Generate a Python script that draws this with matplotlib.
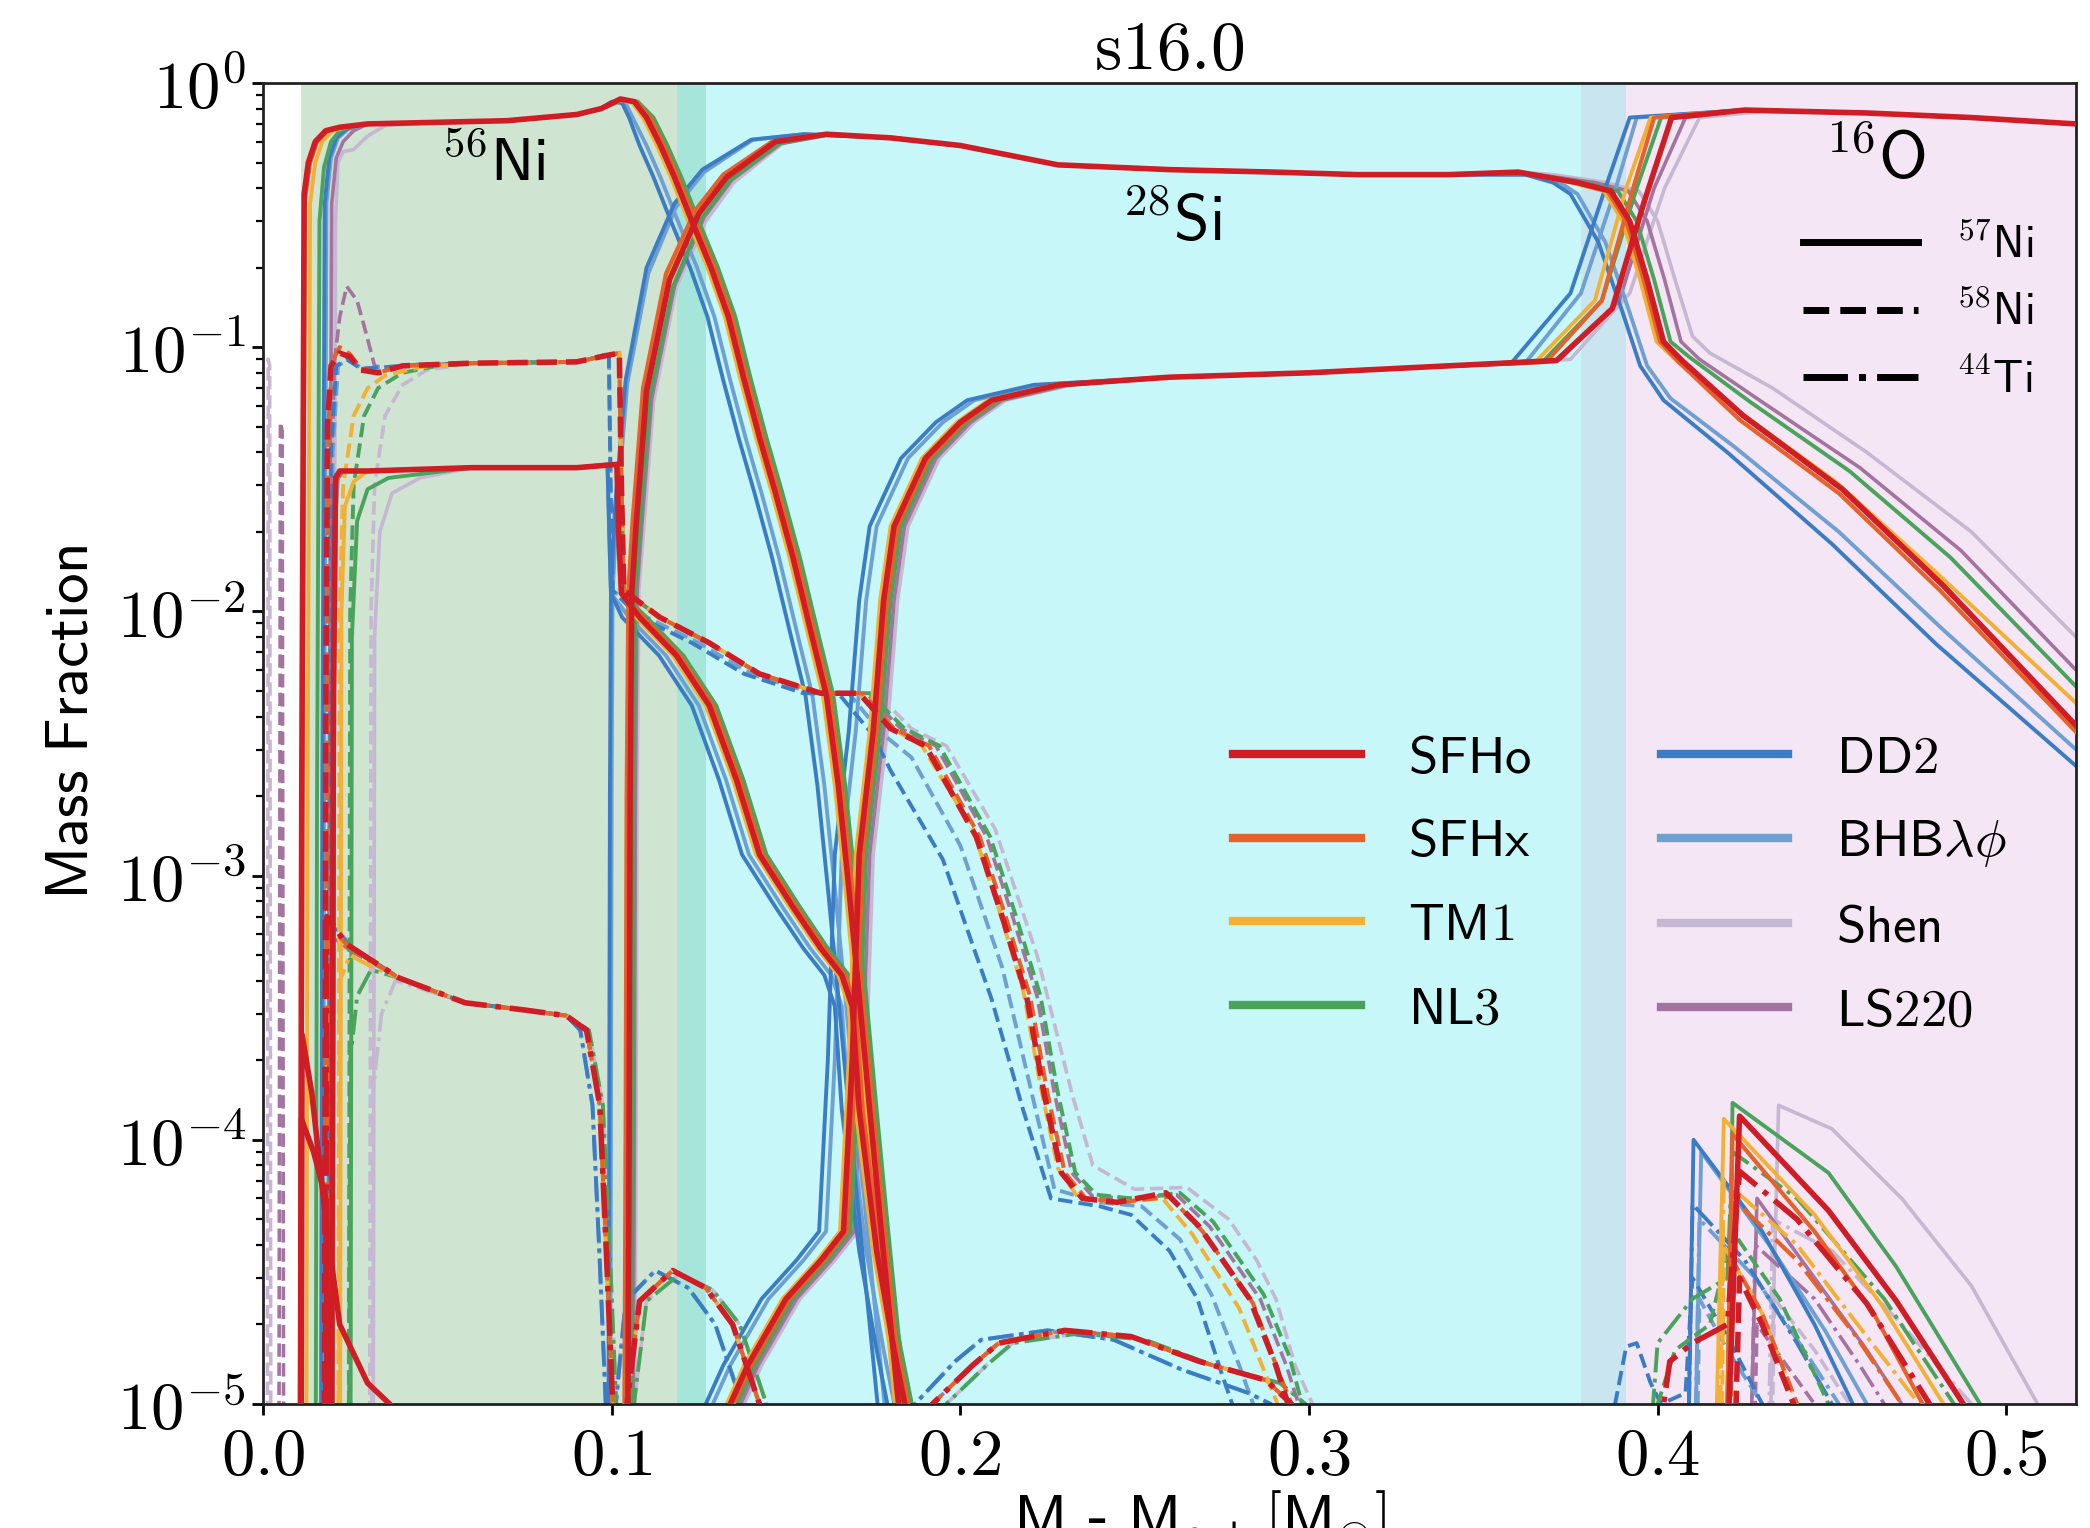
import math
import matplotlib
matplotlib.use("Agg")
import matplotlib.pyplot as plt
from matplotlib.ticker import FixedLocator, FuncFormatter, LogLocator, NullFormatter
from matplotlib.lines import Line2D

plt.rcParams['mathtext.fontset'] = 'cm'
plt.rcParams['font.family'] = ['DejaVu Sans']

# ---------------------------------------------------------------- EOS set
EOS = ['SFHo', 'SFHx', 'TM1', 'NL3', 'DD2', 'BHB', 'Shen', 'LS220']
EOS_LABELS = [r'$\mathsf{SFHo}$', r'$\mathsf{SFHx}$', r'$\mathsf{TM1}$', r'$\mathsf{NL3}$',
              r'$\mathsf{DD2}$', r'$\mathsf{BHB}\lambda\phi$', r'$\mathsf{Shen}$', r'$\mathsf{LS220}$']
COLORS = {'SFHo': '#d01c25', 'SFHx': '#e5622a', 'TM1': '#f2b134', 'NL3': '#4aa35a',
          'DD2': '#3b7dc4', 'BHB': '#6fa0d2', 'Shen': '#c6b7d2', 'LS220': '#a4739f'}

# ---------------------------------------------------------------- 56Ni (solid)
NI56_PLAT = [(0.03, 0.70), (0.05, 0.71), (0.07, 0.72), (0.09, 0.76), (0.097, 0.80)]
NI56_FALL_0 = [(0.1025, 0.87), (0.1065, 0.85), (0.110, 0.74), (0.114, 0.58), (0.118, 0.44), (0.123, 0.30),
               (0.1285, 0.20), (0.1335, 0.13), (0.138, 0.075), (0.1425, 0.045), (0.147, 0.028), (0.152, 0.016),
               (0.157, 8.5e-3), (0.1616, 4.8e-3), (0.165, 2.2e-3), (0.168, 9e-4), (0.171, 3.5e-4),
               (0.174, 1.3e-4), (0.177, 5e-5), (0.180, 2e-5), (0.183, 8e-6), (0.186, 3e-6)]
NI56_FALL_P1 = [(0.1025, 0.86), (0.1070, 0.85), (0.111, 0.74), (0.115, 0.58), (0.119, 0.44), (0.124, 0.30),
                (0.1295, 0.20), (0.1345, 0.13), (0.139, 0.075), (0.1435, 0.045), (0.148, 0.028), (0.153, 0.016),
                (0.158, 8.5e-3), (0.1626, 4.8e-3), (0.166, 2.2e-3), (0.169, 9e-4), (0.172, 3.5e-4),
                (0.175, 1.3e-4), (0.178, 5e-5), (0.181, 2e-5), (0.184, 8e-6), (0.187, 3e-6)]
NI56_FALL_TM1 = [(0.1025, 0.86), (0.1060, 0.84), (0.109, 0.74), (0.113, 0.58), (0.117, 0.44), (0.122, 0.30),
                 (0.1275, 0.20), (0.1325, 0.13), (0.137, 0.075), (0.1415, 0.045), (0.146, 0.028), (0.151, 0.016),
                 (0.156, 8.5e-3), (0.1606, 4.8e-3), (0.164, 2.2e-3), (0.167, 9e-4), (0.170, 3.5e-4),
                 (0.173, 1.3e-4), (0.176, 5e-5), (0.179, 2e-5), (0.182, 8e-6), (0.185, 3e-6)]
NI56_FALL_NL3 = [(0.1030, 0.86), (0.1075, 0.85), (0.112, 0.74), (0.116, 0.58), (0.120, 0.44), (0.125, 0.30),
                 (0.1305, 0.20), (0.1355, 0.13), (0.140, 0.075), (0.1445, 0.045), (0.149, 0.028), (0.154, 0.016),
                 (0.159, 8.5e-3), (0.1636, 4.8e-3), (0.167, 2.2e-3), (0.170, 9e-4), (0.173, 3.5e-4),
                 (0.176, 1.3e-4), (0.179, 5e-5), (0.182, 2e-5), (0.185, 8e-6), (0.188, 3e-6)]
NI56_FALL_DD2 = [(0.1000, 0.85), (0.1030, 0.84), (0.105, 0.74), (0.108, 0.58), (0.112, 0.44), (0.117, 0.30),
                 (0.1225, 0.20), (0.1275, 0.13), (0.132, 0.075), (0.1365, 0.045), (0.141, 0.028), (0.146, 0.016),
                 (0.151, 8.5e-3), (0.1556, 4.8e-3), (0.159, 2.2e-3), (0.162, 9e-4), (0.165, 3.5e-4),
                 (0.168, 1.3e-4), (0.171, 5e-5), (0.174, 2e-5), (0.177, 8e-6), (0.180, 3e-6)]
NI56_FALL_BHB = [(0.1005, 0.85), (0.1040, 0.84), (0.106, 0.74), (0.110, 0.58), (0.114, 0.44), (0.119, 0.30),
                 (0.1245, 0.20), (0.1295, 0.13), (0.134, 0.075), (0.1385, 0.045), (0.143, 0.028), (0.148, 0.016),
                 (0.153, 8.5e-3), (0.1576, 4.8e-3), (0.161, 2.2e-3), (0.164, 9e-4), (0.167, 3.5e-4),
                 (0.170, 1.3e-4), (0.173, 5e-5), (0.176, 2e-5), (0.179, 8e-6), (0.182, 3e-6)]
NI56 = {
    'SFHo': [(0.0106, 1e-6), (0.0111, 2e-3), (0.0118, 0.38), (0.013, 0.50), (0.015, 0.60), (0.018, 0.66),
             (0.022, 0.68)] + NI56_PLAT + NI56_FALL_0,
    'SFHx': [(0.0108, 1e-6), (0.0113, 2e-3), (0.012, 0.36), (0.0135, 0.50), (0.0155, 0.60), (0.0185, 0.66),
             (0.0225, 0.68)] + NI56_PLAT + NI56_FALL_P1,
    'TM1': [(0.0123, 1e-6), (0.0128, 2e-3), (0.0135, 0.35), (0.015, 0.50), (0.017, 0.60), (0.020, 0.66),
            (0.024, 0.68)] + NI56_PLAT + NI56_FALL_TM1,
    'NL3': [(0.0150, 1e-6), (0.0155, 2e-3), (0.0162, 0.30), (0.0175, 0.48), (0.0195, 0.60), (0.022, 0.66),
            (0.026, 0.69)] + NI56_PLAT + NI56_FALL_NL3,
    'DD2': [(0.0165, 1e-6), (0.0170, 2e-3), (0.0177, 0.35), (0.019, 0.52), (0.021, 0.62), (0.024, 0.67),
            (0.027, 0.69)] + NI56_PLAT + NI56_FALL_DD2,
    'BHB': [(0.0170, 1e-6), (0.0175, 2e-3), (0.0182, 0.35), (0.0195, 0.52), (0.0215, 0.62), (0.0245, 0.67),
            (0.028, 0.69)] + NI56_PLAT + NI56_FALL_BHB,
    'Shen': [(0.0198, 1e-6), (0.0203, 2e-3), (0.0208, 0.30), (0.0215, 0.50), (0.023, 0.55), (0.026, 0.56),
             (0.030, 0.63), (0.035, 0.69)] + NI56_PLAT[1:] + NI56_FALL_P1,
    'LS220': [(0.0185, 1e-6), (0.0190, 2e-3), (0.0197, 0.35), (0.021, 0.52), (0.023, 0.60), (0.026, 0.66),
              (0.029, 0.69)] + NI56_PLAT + NI56_FALL_0,
}

# ---------------------------------------------------------------- 28Si (solid)
SI28_INNER = [(0.0108, 1e-6), (0.0112, 2.5e-4), (0.014, 1.5e-4), (0.018, 5e-5), (0.022, 2e-5),
              (0.03, 1.2e-5), (0.04, 9e-6), (0.05, 6e-6)]
SI28_MID = [(0.2, 0.58), (0.228, 0.49), (0.26, 0.47), (0.29, 0.46), (0.314, 0.45), (0.34, 0.45), (0.36, 0.46)]
SI28 = {
    'SFHo': SI28_INNER + [(0.1045, 3e-6), (0.1050, 1e-4), (0.1053, 2e-3), (0.1058, 0.012), (0.107, 0.021),
                          (0.110, 0.068), (0.1166, 0.18), (0.125, 0.32), (0.133, 0.44), (0.147, 0.60),
                          (0.1616, 0.64), (0.18, 0.62)] + SI28_MID +
            [(0.377, 0.42), (0.3866, 0.39), (0.392, 0.30), (0.397, 0.18), (0.4017, 0.105), (0.407, 0.089),
             (0.4246, 0.055), (0.453, 0.029), (0.482, 0.0125), (0.52, 3.7e-3)],
    'SFHx': [(0.1035, 3e-6), (0.1040, 1e-4), (0.1043, 2e-3), (0.1048, 0.012), (0.106, 0.022), (0.109, 0.07),
             (0.1156, 0.19), (0.124, 0.33), (0.132, 0.45), (0.146, 0.60), (0.1606, 0.64), (0.18, 0.62)] + SI28_MID +
            [(0.376, 0.42), (0.3856, 0.39), (0.391, 0.30), (0.396, 0.18), (0.4007, 0.105), (0.406, 0.088),
             (0.4236, 0.053), (0.452, 0.028), (0.481, 0.012), (0.52, 3.5e-3)],
    'TM1': [(0.1040, 3e-6), (0.1045, 1e-4), (0.1048, 2e-3), (0.1053, 0.012), (0.1065, 0.022), (0.1095, 0.07),
            (0.116, 0.19), (0.1245, 0.33), (0.1325, 0.45), (0.1465, 0.60), (0.161, 0.64), (0.18, 0.62)] + SI28_MID +
           [(0.375, 0.42), (0.3846, 0.39), (0.390, 0.30), (0.395, 0.18), (0.3997, 0.105), (0.405, 0.09),
            (0.4226, 0.058), (0.451, 0.031), (0.48, 0.014), (0.52, 4.5e-3)],
    'NL3': [(0.1055, 3e-6), (0.1060, 1e-4), (0.1063, 2e-3), (0.1068, 0.012), (0.108, 0.020), (0.111, 0.065),
            (0.1176, 0.17), (0.126, 0.31), (0.134, 0.43), (0.148, 0.59), (0.1626, 0.64), (0.18, 0.62)] + SI28_MID +
           [(0.379, 0.42), (0.3886, 0.39), (0.394, 0.30), (0.399, 0.18), (0.4037, 0.105), (0.409, 0.092),
            (0.4266, 0.062), (0.455, 0.034), (0.484, 0.016), (0.52, 5.2e-3)],
    'DD2': [(0.0990, 3e-6), (0.0993, 1e-4), (0.0995, 2e-3), (0.0998, 0.012), (0.101, 0.025), (0.104, 0.075),
            (0.110, 0.20), (0.118, 0.35), (0.126, 0.47), (0.14, 0.61), (0.155, 0.64), (0.18, 0.62)] + SI28_MID[:-1] +
           [(0.362, 0.45), (0.370, 0.42), (0.375, 0.38), (0.383, 0.25), (0.390, 0.135), (0.395, 0.085),
            (0.4017, 0.063), (0.42, 0.04), (0.45, 0.018), (0.48, 7.5e-3), (0.52, 2.6e-3)],
    'BHB': [(0.0995, 3e-6), (0.0998, 1e-4), (0.1000, 2e-3), (0.1003, 0.012), (0.1015, 0.024), (0.1045, 0.073),
            (0.1105, 0.19), (0.1185, 0.34), (0.1265, 0.46), (0.1405, 0.61), (0.1555, 0.64), (0.18, 0.62)] + SI28_MID[:-1] +
           [(0.364, 0.45), (0.372, 0.42), (0.377, 0.38), (0.385, 0.25), (0.392, 0.135), (0.397, 0.085),
            (0.4037, 0.064), (0.422, 0.042), (0.452, 0.02), (0.482, 8.5e-3), (0.52, 3.0e-3)],
    'Shen': [(0.1065, 3e-6), (0.1070, 1e-4), (0.1073, 2e-3), (0.1078, 0.012), (0.109, 0.019), (0.112, 0.062),
             (0.1186, 0.17), (0.127, 0.30), (0.135, 0.42), (0.149, 0.59), (0.1636, 0.64), (0.18, 0.62)] + SI28_MID +
            [(0.37, 0.45), (0.385, 0.42), (0.3946, 0.39), (0.400, 0.30), (0.405, 0.18), (0.41, 0.11),
             (0.415, 0.095), (0.433, 0.07), (0.46, 0.04), (0.49, 0.02), (0.52, 8e-3)],
    'LS220': [(0.1060, 3e-6), (0.1065, 1e-4), (0.1068, 2e-3), (0.1073, 0.012), (0.1085, 0.020), (0.1115, 0.064),
              (0.118, 0.17), (0.1265, 0.31), (0.1345, 0.43), (0.1485, 0.59), (0.163, 0.64), (0.18, 0.62)] + SI28_MID +
             [(0.382, 0.42), (0.3916, 0.39), (0.397, 0.30), (0.402, 0.18), (0.4067, 0.105), (0.412, 0.09),
              (0.43, 0.062), (0.458, 0.035), (0.487, 0.017), (0.52, 6e-3)],
}

# ---------------------------------------------------------------- 16O (solid)
O16_MID = [(0.26, 0.077), (0.3, 0.080), (0.34, 0.085)]
O16_TOP = [(0.425, 0.79), (0.46, 0.77), (0.49, 0.74), (0.52, 0.70)]
O16 = {
    'SFHo': [(0.131, 1e-6), (0.134, 1e-5), (0.139, 1.4e-5), (0.15, 2.5e-5), (0.16, 3.5e-5), (0.1665, 4.5e-5),
             (0.169, 2e-4), (0.171, 1.2e-3), (0.175, 3.5e-3), (0.178, 0.011), (0.181, 0.021), (0.19, 0.038),
             (0.2, 0.052), (0.209, 0.063), (0.228, 0.072)] + O16_MID +
            [(0.371, 0.089), (0.387, 0.14), (0.396, 0.35), (0.404, 0.74)] + O16_TOP,
    'SFHx': [(0.132, 1e-6), (0.135, 1e-5), (0.140, 1.4e-5), (0.151, 2.5e-5), (0.161, 3.5e-5), (0.1675, 4.5e-5),
             (0.170, 2e-4), (0.172, 1.2e-3), (0.176, 3.5e-3), (0.179, 0.011), (0.182, 0.021), (0.191, 0.038),
             (0.201, 0.052), (0.210, 0.063), (0.229, 0.072)] + O16_MID +
            [(0.368, 0.088), (0.384, 0.15), (0.393, 0.40), (0.399, 0.74)] + O16_TOP,
    'TM1': [(0.130, 1e-6), (0.133, 1e-5), (0.138, 1.4e-5), (0.149, 2.5e-5), (0.159, 3.5e-5), (0.1655, 4.5e-5),
            (0.168, 2e-4), (0.170, 1.2e-3), (0.174, 3.5e-3), (0.177, 0.011), (0.180, 0.021), (0.189, 0.038),
            (0.199, 0.052), (0.208, 0.063), (0.227, 0.072)] + O16_MID +
           [(0.365, 0.088), (0.382, 0.15), (0.391, 0.40), (0.398, 0.74)] + O16_TOP,
    'NL3': [(0.133, 1e-6), (0.136, 1e-5), (0.141, 1.4e-5), (0.152, 2.5e-5), (0.162, 3.5e-5), (0.1685, 4.5e-5),
            (0.171, 2e-4), (0.173, 1.2e-3), (0.177, 3.5e-3), (0.180, 0.011), (0.183, 0.021), (0.192, 0.038),
            (0.202, 0.052), (0.211, 0.063), (0.230, 0.072)] + O16_MID +
           [(0.367, 0.088), (0.384, 0.15), (0.394, 0.40), (0.401, 0.74)] + O16_TOP,
    'DD2': [(0.124, 1e-6), (0.127, 1e-5), (0.132, 1.4e-5), (0.143, 2.5e-5), (0.153, 3.5e-5), (0.1595, 4.5e-5),
            (0.162, 2e-4), (0.164, 1.2e-3), (0.168, 3.5e-3), (0.171, 0.011), (0.174, 0.021), (0.183, 0.038),
            (0.193, 0.052), (0.202, 0.063), (0.221, 0.072)] + O16_MID +
           [(0.358, 0.087), (0.375, 0.16), (0.385, 0.40), (0.392, 0.74)] + O16_TOP,
    'BHB': [(0.126, 1e-6), (0.129, 1e-5), (0.134, 1.4e-5), (0.145, 2.5e-5), (0.155, 3.5e-5), (0.1615, 4.5e-5),
            (0.164, 2e-4), (0.166, 1.2e-3), (0.170, 3.5e-3), (0.173, 0.011), (0.176, 0.021), (0.185, 0.038),
            (0.195, 0.052), (0.204, 0.063), (0.223, 0.072)] + O16_MID +
           [(0.362, 0.087), (0.378, 0.16), (0.388, 0.40), (0.394, 0.74)] + O16_TOP,
    'Shen': [(0.135, 1e-6), (0.138, 1e-5), (0.143, 1.4e-5), (0.154, 2.5e-5), (0.164, 3.5e-5), (0.1705, 4.5e-5),
             (0.173, 2e-4), (0.175, 1.2e-3), (0.179, 3.5e-3), (0.182, 0.011), (0.185, 0.021), (0.194, 0.038),
             (0.204, 0.052), (0.213, 0.063), (0.232, 0.072)] + O16_MID +
            [(0.375, 0.09), (0.392, 0.16), (0.402, 0.40), (0.412, 0.74), (0.43, 0.78)] + O16_TOP[1:],
    'LS220': [(0.134, 1e-6), (0.137, 1e-5), (0.142, 1.4e-5), (0.153, 2.5e-5), (0.163, 3.5e-5), (0.1695, 4.5e-5),
              (0.172, 2e-4), (0.174, 1.2e-3), (0.178, 3.5e-3), (0.181, 0.011), (0.184, 0.021), (0.193, 0.038),
              (0.203, 0.052), (0.212, 0.063), (0.231, 0.072)] + O16_MID +
             [(0.372, 0.09), (0.389, 0.15), (0.399, 0.40), (0.408, 0.74)] + O16_TOP,
}

# ---------------------------------------------------------------- 57Ni (solid)
NI57_PLAT = [(0.03, 0.034), (0.06, 0.035), (0.09, 0.035)]
NI57_DROP = [(0.1015, 0.036), (0.102, 0.02), (0.1028, 0.0117)]
NI57_DROP_BLUE = [(0.0988, 0.036), (0.0993, 0.02), (0.0998, 0.0117)]
NI57_FALL_0 = [(0.108, 9.5e-3), (0.1186, 6.8e-3), (0.128, 4.4e-3), (0.1358, 2.3e-3), (0.1424, 1.2e-3),
               (0.152, 7.6e-4), (0.16, 5.3e-4), (0.166, 4.2e-4), (0.169, 3.2e-4), (0.171, 1.3e-4),
               (0.176, 3.8e-5), (0.181, 1.6e-5), (0.185, 8.7e-6), (0.188, 3e-6)]
NI57_FALL_P1 = [(0.109, 9.5e-3), (0.1196, 6.8e-3), (0.129, 4.4e-3), (0.1368, 2.3e-3), (0.1434, 1.2e-3),
                (0.153, 7.6e-4), (0.161, 5.3e-4), (0.167, 4.2e-4), (0.170, 3.2e-4), (0.172, 1.3e-4),
                (0.177, 3.8e-5), (0.182, 1.6e-5), (0.186, 8.7e-6), (0.189, 3e-6)]
NI57_FALL_M1 = [(0.107, 9.5e-3), (0.1176, 6.8e-3), (0.127, 4.4e-3), (0.1348, 2.3e-3), (0.1414, 1.2e-3),
                (0.151, 7.6e-4), (0.159, 5.3e-4), (0.165, 4.2e-4), (0.168, 3.2e-4), (0.170, 1.3e-4),
                (0.175, 3.8e-5), (0.180, 1.6e-5), (0.184, 8.7e-6), (0.187, 3e-6)]
NI57_FALL_P2 = [(0.110, 9.5e-3), (0.1206, 6.8e-3), (0.130, 4.4e-3), (0.1378, 2.3e-3), (0.1444, 1.2e-3),
                (0.154, 7.6e-4), (0.162, 5.3e-4), (0.168, 4.2e-4), (0.171, 3.2e-4), (0.173, 1.3e-4),
                (0.178, 3.8e-5), (0.183, 1.6e-5), (0.187, 8.7e-6), (0.190, 3e-6)]
NI57_FALL_DD2 = [(0.103, 9.5e-3), (0.1136, 6.8e-3), (0.123, 4.4e-3), (0.1308, 2.3e-3), (0.1374, 1.2e-3),
                 (0.147, 7.6e-4), (0.155, 5.3e-4), (0.161, 4.2e-4), (0.164, 3.2e-4), (0.166, 1.3e-4),
                 (0.171, 3.8e-5), (0.176, 1.6e-5), (0.180, 8.7e-6), (0.183, 3e-6)]
NI57_FALL_BHB = [(0.105, 9.5e-3), (0.1156, 6.8e-3), (0.125, 4.4e-3), (0.1328, 2.3e-3), (0.1394, 1.2e-3),
                 (0.149, 7.6e-4), (0.157, 5.3e-4), (0.163, 4.2e-4), (0.166, 3.2e-4), (0.168, 1.3e-4),
                 (0.173, 3.8e-5), (0.178, 1.6e-5), (0.182, 8.7e-6), (0.185, 3e-6)]
NI57 = {
    'SFHo': [(0.0106, 1e-6), (0.011, 1.2e-4), (0.0145, 9e-5), (0.018, 6e-5), (0.0188, 1e-6), (0.0195, 1e-6),
             (0.0202, 5e-3), (0.0208, 0.032), (0.022, 0.034)] + NI57_PLAT + NI57_DROP + NI57_FALL_0 +
            [(0.419, 1e-6), (0.4205, 1e-5), (0.4235, 1.23e-4), (0.449, 5.4e-5), (0.4685, 2.45e-5),
             (0.4877, 1e-5), (0.495, 5e-6)],
    'SFHx': [(0.0197, 1e-6), (0.0204, 5e-3), (0.021, 0.031), (0.0225, 0.034)] + NI57_PLAT + NI57_DROP +
            NI57_FALL_P1 +
            [(0.4195, 1e-6), (0.420, 1e-5), (0.4215, 1.05e-4), (0.445, 4.5e-5), (0.462, 2.2e-5),
             (0.476, 1e-5), (0.482, 5e-6)],
    'TM1': [(0.022, 1e-6), (0.0225, 0.01), (0.0235, 0.025), (0.026, 0.031)] + NI57_PLAT + NI57_DROP +
           NI57_FALL_M1 +
           [(0.4165, 1e-6), (0.417, 1e-5), (0.419, 1.2e-4), (0.445, 5.2e-5), (0.464, 2.4e-5),
            (0.482, 1e-5), (0.488, 5e-6)],
    'NL3': [(0.025, 1e-6), (0.0255, 8e-3), (0.027, 0.022), (0.030, 0.029), (0.036, 0.032)] + NI57_PLAT[1:] +
           NI57_DROP + NI57_FALL_P2 +
           [(0.4195, 1e-6), (0.420, 1e-5), (0.4215, 1.38e-4), (0.449, 7.5e-5), (0.4685, 3.3e-5),
            (0.4925, 1e-5), (0.498, 5e-6)],
    'DD2': [(0.0195, 1e-6), (0.0200, 0.02), (0.021, 0.032), (0.023, 0.034)] + NI57_PLAT + NI57_DROP_BLUE +
           NI57_FALL_DD2 +
           [(0.4085, 1e-6), (0.409, 1e-5), (0.4103, 1.0e-4), (0.43, 4.5e-5), (0.445, 2e-5),
            (0.456, 1e-5), (0.46, 5e-6)],
    'BHB': [(0.0200, 1e-6), (0.0205, 0.02), (0.0215, 0.032), (0.0235, 0.034)] + NI57_PLAT + NI57_DROP_BLUE +
           NI57_FALL_BHB +
           [(0.4105, 1e-6), (0.411, 1e-5), (0.4125, 9e-5), (0.432, 4e-5), (0.448, 1.9e-5),
            (0.46, 1e-5), (0.465, 5e-6)],
    'Shen': [(0.0315, 1e-6), (0.032, 8e-3), (0.0335, 0.02), (0.037, 0.028), (0.045, 0.032)] + NI57_PLAT[1:] +
            NI57_DROP + NI57_FALL_P2 +
            [(0.432, 1e-6), (0.4325, 1e-5), (0.4347, 1.35e-4), (0.45, 1.1e-4), (0.47, 6e-5), (0.49, 2.8e-5),
             (0.509, 1e-5), (0.514, 5e-6)],
    'LS220': [(0.0190, 1e-6), (0.0197, 0.02), (0.0205, 0.032), (0.023, 0.034)] + NI57_PLAT + NI57_DROP +
             NI57_FALL_P1 +
             [(0.4265, 1e-6), (0.427, 1e-5), (0.4285, 6e-5), (0.445, 3e-5), (0.46, 1.6e-5),
              (0.47, 1e-5), (0.474, 5e-6)],
}

# ---------------------------------------------------------------- 58Ni (dashed)
NI58_PLAT = [(0.06, 0.087), (0.09, 0.088)]
NI58_DROP = [(0.0985, 0.093), (0.1022, 0.095), (0.1028, 0.03), (0.1035, 0.012)]
NI58_DROP_BLUE = [(0.0965, 0.092), (0.0992, 0.095), (0.0997, 0.03), (0.1003, 0.012)]
NI58_EARLY = [(0.1138, 9.5e-3), (0.128, 7.6e-3), (0.1424, 5.8e-3), (0.16, 4.9e-3)]
NI58 = {
    'SFHo': [(0.0175, 1e-6), (0.018, 4e-3), (0.0185, 0.05), (0.0195, 0.085), (0.022, 0.095), (0.025, 0.092),
             (0.028, 0.082), (0.033, 0.080), (0.04, 0.085)] + NI58_PLAT + NI58_DROP + NI58_EARLY +
            [(0.171, 4.9e-3), (0.18, 3.6e-3), (0.19, 3.1e-3), (0.2046, 1.4e-3), (0.212, 7e-4), (0.219, 3.5e-4),
             (0.224, 1.5e-4), (0.229, 7.5e-5), (0.235, 6.0e-5), (0.245, 5.8e-5), (0.259, 6.3e-5),
             (0.2685, 4.7e-5), (0.283, 2.5e-5), (0.2905, 1.4e-5), (0.294, 1e-5), (0.297, 5e-6),
             (0.422, 1e-6), (0.4225, 1e-5), (0.4235, 3e-5), (0.43, 2e-5), (0.439, 1e-5), (0.445, 4e-6)],
    'SFHx': [(0.0178, 1e-6), (0.0183, 4e-3), (0.0188, 0.05), (0.0198, 0.088), (0.022, 0.10), (0.025, 0.094),
             (0.028, 0.083), (0.033, 0.080), (0.04, 0.085)] + NI58_PLAT + NI58_DROP + NI58_EARLY +
            [(0.172, 4.9e-3), (0.181, 3.6e-3), (0.191, 3.1e-3), (0.2056, 1.4e-3), (0.213, 7e-4), (0.220, 3.5e-4),
             (0.225, 1.5e-4), (0.230, 7.5e-5), (0.236, 6.0e-5), (0.246, 5.8e-5), (0.260, 6.1e-5),
             (0.2695, 4.5e-5), (0.284, 2.4e-5), (0.2915, 1.3e-5), (0.295, 1e-5), (0.298, 5e-6),
             (0.4205, 1e-6), (0.421, 1e-5), (0.4215, 3.5e-5), (0.43, 2.2e-5), (0.44, 1e-5), (0.445, 4e-6)],
    'TM1': [(0.0215, 1e-6), (0.022, 0.01), (0.023, 0.03), (0.026, 0.055), (0.03, 0.07), (0.035, 0.078),
            (0.045, 0.084)] + NI58_PLAT + NI58_DROP + NI58_EARLY +
           [(0.171, 4.9e-3), (0.179, 3.7e-3), (0.189, 3.1e-3), (0.2036, 1.5e-3), (0.211, 7.5e-4), (0.218, 3.7e-4),
            (0.223, 1.6e-4), (0.228, 7.8e-5), (0.234, 6.0e-5), (0.244, 5.8e-5), (0.258, 6.0e-5),
            (0.2665, 4.4e-5), (0.280, 2.3e-5), (0.2875, 1.3e-5), (0.291, 1e-5), (0.294, 5e-6),
            (0.418, 1e-6), (0.4185, 1e-5), (0.419, 4e-5), (0.43, 2.2e-5), (0.44, 1e-5), (0.445, 4e-6)],
    'NL3': [(0.0245, 1e-6), (0.025, 0.01), (0.026, 0.03), (0.029, 0.055), (0.033, 0.07), (0.04, 0.08),
            (0.05, 0.085)] + NI58_PLAT + NI58_DROP + NI58_EARLY +
           [(0.174, 4.9e-3), (0.184, 3.6e-3), (0.194, 3.1e-3), (0.2086, 1.4e-3), (0.216, 7e-4), (0.223, 3.5e-4),
            (0.228, 1.5e-4), (0.233, 7.5e-5), (0.239, 6.2e-5), (0.249, 6.0e-5), (0.263, 6.3e-5),
            (0.2725, 4.9e-5), (0.287, 2.6e-5), (0.2945, 1.5e-5), (0.298, 1e-5), (0.301, 5e-6),
            (0.3995, 1e-6), (0.400, 1e-5), (0.405, 1.6e-5), (0.415, 2e-5), (0.4215, 4.5e-5), (0.435, 2.5e-5),
            (0.449, 1e-5), (0.455, 4e-6)],
    'DD2': [(0.019, 1e-6), (0.0195, 0.04), (0.021, 0.085), (0.024, 0.09), (0.028, 0.083), (0.035, 0.084),
            (0.045, 0.086)] + NI58_PLAT + NI58_DROP_BLUE +
           [(0.108, 9.5e-3), (0.123, 7.6e-3), (0.138, 5.8e-3), (0.155, 4.9e-3),
            (0.165, 4.9e-3), (0.175, 3.4e-3), (0.18, 2.5e-3), (0.195, 1.15e-3), (0.209, 3.4e-4), (0.218, 1.3e-4),
            (0.226, 6e-5), (0.24, 5.6e-5), (0.249, 5.2e-5), (0.26, 3.8e-5), (0.268, 2.5e-5), (0.275, 1.3e-5),
            (0.278, 1e-5), (0.28, 5e-6),
            (0.387, 1e-6), (0.3878, 1e-5), (0.391, 1.65e-5), (0.394, 1.7e-5), (0.398, 1.2e-5), (0.401, 1e-5),
            (0.408, 1.1e-5), (0.41, 3e-5), (0.42, 1.8e-5), (0.43, 1e-5), (0.435, 4e-6)],
    'BHB': [(0.0195, 1e-6), (0.020, 0.04), (0.0215, 0.085), (0.0245, 0.09), (0.0285, 0.083), (0.035, 0.084),
            (0.045, 0.086)] + NI58_PLAT + NI58_DROP_BLUE +
           [(0.110, 9.5e-3), (0.125, 7.6e-3), (0.140, 5.8e-3), (0.158, 4.9e-3),
            (0.168, 4.9e-3), (0.177, 3.5e-3), (0.186, 2.8e-3), (0.2, 1.3e-3), (0.212, 4.5e-4), (0.22, 1.6e-4),
            (0.227, 6.5e-5), (0.24, 5.8e-5), (0.252, 5.6e-5), (0.263, 4.2e-5), (0.272, 2.6e-5), (0.28, 1.4e-5),
            (0.284, 1e-5), (0.287, 5e-6),
            (0.411, 1e-6), (0.4115, 1e-5), (0.412, 2.5e-5), (0.42, 1.6e-5), (0.43, 1e-5), (0.435, 4e-6)],
    'Shen': [(0.0012, 1e-6), (0.0015, 0.09), (0.0019, 0.085), (0.0023, 1e-6), (0.0305, 1e-6), (0.031, 0.01),
             (0.032, 0.03), (0.035, 0.055), (0.04, 0.072), (0.047, 0.082)] + NI58_PLAT + NI58_DROP + NI58_EARLY +
            [(0.176, 4.9e-3), (0.186, 3.6e-3), (0.196, 3.1e-3), (0.21, 1.5e-3), (0.222, 5e-4), (0.232, 1.5e-4),
             (0.238, 8e-5), (0.25, 6.5e-5), (0.265, 6.6e-5), (0.277, 5e-5), (0.285, 3.5e-5), (0.2905, 2.5e-5),
             (0.296, 1.4e-5), (0.301, 1e-5), (0.304, 5e-6),
             (0.4325, 1e-6), (0.433, 1e-5), (0.4335, 2.5e-5), (0.445, 1.6e-5), (0.455, 1e-5), (0.46, 4e-6)],
    'LS220': [(0.0045, 1e-6), (0.005, 0.052), (0.0055, 0.048), (0.006, 1e-6), (0.0185, 1e-6), (0.0195, 0.03),
              (0.0205, 0.088), (0.022, 0.13), (0.024, 0.17), (0.027, 0.15), (0.0298, 0.11), (0.032, 0.085),
              (0.036, 0.083), (0.045, 0.086)] + NI58_PLAT + NI58_DROP + NI58_EARLY +
             [(0.173, 4.9e-3), (0.183, 3.6e-3), (0.193, 3.1e-3), (0.2076, 1.4e-3), (0.215, 7e-4), (0.222, 3.5e-4),
              (0.227, 1.5e-4), (0.232, 7.5e-5), (0.238, 6.1e-5), (0.248, 6.0e-5), (0.262, 6.2e-5),
              (0.2715, 4.7e-5), (0.286, 2.5e-5), (0.2935, 1.4e-5), (0.297, 1e-5), (0.300, 5e-6),
              (0.4275, 1e-6), (0.428, 1e-5), (0.4285, 2e-5), (0.437, 1.4e-5), (0.445, 1e-5), (0.45, 4e-6)],
}

# ---------------------------------------------------------------- 44Ti (dash-dot)
TI44_MID = [(0.039, 4.1e-4), (0.058, 3.3e-4), (0.075, 3.1e-4), (0.087, 2.95e-4)]
TI44_EDGE = [(0.0928, 2.6e-4), (0.0966, 1.35e-4), (0.0985, 3.7e-5), (0.1003, 1e-5), (0.101, 5e-6),
             (0.1035, 8e-6), (0.108, 2.45e-5), (0.1175, 3.2e-5), (0.127, 2.75e-5), (0.1347, 2e-5),
             (0.1424, 1e-5), (0.145, 6e-6)]
TI44_EDGE_LATE = [(0.0935, 2.6e-4), (0.0975, 1.35e-4), (0.0995, 3.7e-5), (0.1013, 1e-5), (0.102, 5e-6),
                  (0.1055, 8e-6), (0.110, 2.45e-5), (0.1195, 3.1e-5), (0.129, 2.7e-5), (0.1367, 2e-5),
                  (0.1444, 1e-5), (0.147, 6e-6)]
TI44_EDGE_BLUE = [(0.091, 2.6e-4), (0.0945, 1.35e-4), (0.0965, 3.7e-5), (0.0983, 1e-5), (0.099, 5e-6),
                  (0.1005, 8e-6), (0.104, 2.45e-5), (0.1125, 3.2e-5), (0.122, 2.75e-5), (0.1297, 2e-5),
                  (0.1374, 1e-5), (0.14, 6e-6)]
TI44_HUMP = [(0.189, 6e-6), (0.192, 1e-5), (0.2035, 1.4e-5), (0.211, 1.7e-5), (0.23, 1.9e-5), (0.249, 1.8e-5),
             (0.2685, 1.45e-5), (0.2877, 1.23e-5), (0.295, 1e-5), (0.298, 7e-6)]
TI44_HUMP_LATE = [(0.193, 6e-6), (0.196, 1e-5), (0.2075, 1.4e-5), (0.215, 1.7e-5), (0.234, 1.85e-5),
                  (0.253, 1.75e-5), (0.2725, 1.4e-5), (0.2917, 1.2e-5), (0.299, 1e-5), (0.302, 7e-6)]
TI44_HUMP_BLUE = [(0.184, 6e-6), (0.187, 1e-5), (0.1985, 1.45e-5), (0.206, 1.75e-5), (0.225, 1.9e-5),
                  (0.244, 1.75e-5), (0.2635, 1.35e-5), (0.2827, 1.1e-5), (0.289, 1e-5), (0.292, 7e-6)]
TI44 = {
    'SFHo': [(0.0178, 1e-6), (0.0183, 7e-4), (0.024, 5.5e-4)] + TI44_MID + TI44_EDGE + TI44_HUMP +
            [(0.40, 7e-6), (0.4035, 1.45e-5), (0.41, 1.7e-5), (0.42, 2e-5), (0.4235, 7.6e-5), (0.44, 5e-5),
             (0.46, 2.4e-5), (0.478, 1e-5), (0.485, 5e-6)],
    'SFHx': [(0.0185, 1e-6), (0.019, 6.5e-4), (0.025, 5.3e-4)] + TI44_MID + TI44_EDGE + TI44_HUMP +
            [(0.419, 5e-6), (0.4205, 1e-5), (0.4215, 6e-5), (0.44, 3.5e-5), (0.457, 1.8e-5), (0.47, 1e-5),
             (0.475, 5e-6)],
    'TM1': [(0.0215, 1e-6), (0.022, 4e-4), (0.025, 5e-4), (0.03, 4.6e-4)] + TI44_MID + TI44_EDGE + TI44_HUMP +
           [(0.4175, 5e-6), (0.418, 1e-5), (0.419, 7e-5), (0.44, 4e-5), (0.46, 1.8e-5), (0.475, 1e-5),
            (0.48, 5e-6)],
    'NL3': [(0.0245, 1e-6), (0.025, 2e-4), (0.027, 3.5e-4), (0.031, 4.4e-4)] + TI44_MID + TI44_EDGE_LATE +
           TI44_HUMP_LATE +
           [(0.397, 5e-6), (0.40, 1.7e-5), (0.41, 2.5e-5), (0.42, 3e-5), (0.4215, 9e-5), (0.44, 6e-5),
            (0.465, 2.5e-5), (0.485, 1e-5), (0.49, 5e-6)],
    'DD2': [(0.019, 1e-6), (0.0195, 6.5e-4), (0.025, 5.4e-4)] + TI44_MID + TI44_EDGE_BLUE + TI44_HUMP_BLUE +
           [(0.4085, 5e-6), (0.409, 1e-5), (0.41, 5.7e-5), (0.425, 3.5e-5), (0.44, 1.7e-5), (0.45, 1e-5),
            (0.455, 5e-6)],
    'BHB': [(0.0195, 1e-6), (0.020, 6.5e-4), (0.026, 5.3e-4)] + TI44_MID + TI44_EDGE_BLUE + TI44_HUMP_BLUE +
           [(0.4105, 5e-6), (0.411, 1e-5), (0.412, 5e-5), (0.428, 3e-5), (0.442, 1.6e-5), (0.452, 1e-5),
            (0.457, 5e-6)],
    'Shen': [(0.031, 1e-6), (0.0315, 1.5e-4), (0.034, 3e-4), (0.038, 4e-4)] + TI44_MID[1:] + TI44_EDGE_LATE +
            TI44_HUMP_LATE +
            [(0.4315, 5e-6), (0.432, 1e-5), (0.433, 5e-5), (0.45, 3.8e-5), (0.47, 2e-5), (0.49, 1e-5),
             (0.495, 5e-6)],
    'LS220': [(0.0185, 1e-6), (0.019, 6e-4), (0.025, 5.2e-4)] + TI44_MID + TI44_EDGE + TI44_HUMP +
             [(0.4265, 5e-6), (0.427, 1e-5), (0.428, 4e-5), (0.445, 2.5e-5), (0.458, 1.4e-5), (0.465, 1e-5),
              (0.47, 5e-6)],
}

SPECIES = [(NI56, '-'), (SI28, '-'), (O16, '-'), (NI57, '-'), (NI58, '--'), (TI44, '-.')]

# shell shading (mass coordinate boundaries and fill colours)
SHELLS = [(0.011, 0.1187, '#d0e4d2'), (0.1187, 0.127, '#a6e5da'), (0.127, 0.378, '#c7f7f8'),
          (0.378, 0.391, '#c9e5f0'), (0.391, 0.52, '#f4e6f4')]

X_TICKS = [0.0, 0.1, 0.2, 0.3, 0.4, 0.5]
Y_TICKS = [1e-5, 1e-4, 1e-3, 1e-2, 1e-1, 1e0]

# ---------------------------------------------------------------- figure
fig = plt.figure(figsize=(10.45, 7.64), dpi=200)
ax = fig.add_axes([263 / 2090, 1 - 1404 / 1528, 1813 / 2090, 1321 / 1528])

for x0, x1, c in SHELLS:
    ax.axvspan(x0, x1, color=c, lw=0, zorder=0)

draw_order = ['Shen', 'LS220', 'BHB', 'DD2', 'NL3', 'TM1', 'SFHx', 'SFHo']
widths = {'SFHo': 2.0, 'SFHx': 1.5, 'TM1': 1.4, 'NL3': 1.4, 'DD2': 1.4, 'BHB': 1.4, 'Shen': 1.3, 'LS220': 1.3}
for data, ls in SPECIES:
    for k, name in enumerate(draw_order):
        xs = [p[0] for p in data[name]]
        ys = [p[1] for p in data[name]]
        ax.plot(xs, ys, ls=ls, color=COLORS[name], lw=widths[name], zorder=2 + 0.1 * k)

ax.set_yscale('log')
ax.set_xlim(0, 0.52)
ax.set_ylim(1e-5, 1)

ax.xaxis.set_major_locator(FixedLocator(X_TICKS))
ax.xaxis.set_major_formatter(FuncFormatter(lambda v, p: r'$%.1f$' % v))
ax.yaxis.set_major_locator(FixedLocator(Y_TICKS))
ax.yaxis.set_major_formatter(FuncFormatter(lambda v, p: r'$10^{%d}$' % round(math.log10(v))))
ax.yaxis.set_minor_locator(LogLocator(base=10, subs=range(2, 10), numticks=20))
ax.yaxis.set_minor_formatter(NullFormatter())
ax.tick_params(axis='both', which='major', labelsize=24, length=4, width=1, pad=2)
ax.tick_params(axis='x', which='major', pad=3)
ax.tick_params(axis='y', which='minor', length=2.5, width=0.8)
for s in ax.spines.values():
    s.set_linewidth(1.0)
    s.set_color('#222222')

ax.set_title(r'$\mathrm{s16.0}$', fontsize=25, pad=5)

ax.text(0.066, 0.49, r'$^{56}\mathsf{Ni}$', fontsize=22, ha='center', va='center', zorder=6)
ax.text(0.2607, 0.295, r'$^{28}\mathsf{Si}$', fontsize=23, ha='center', va='center', zorder=6)
ax.text(0.4625, 0.51, r'$^{16}\mathsf{O}$', fontsize=24, ha='center', va='center', zorder=6)

eos_handles = [Line2D([], [], color=COLORS[n], lw=3) for n in EOS]
leg1 = ax.legend(eos_handles, EOS_LABELS, ncol=2, loc='upper left', bbox_to_anchor=(0.535, 0.509),
                 frameon=False, fontsize=19, handlelength=2.42, handletextpad=0.9, labelspacing=0.6,
                 columnspacing=2.44, borderpad=0, borderaxespad=0)
ax.add_artist(leg1)

iso_handles = [Line2D([], [], color='k', lw=2.5, ls=s) for s in ['-', '--', '-.']]
ax.legend(iso_handles, [r'$^{57}\mathsf{Ni}$', r'$^{58}\mathsf{Ni}$', r'$^{44}\mathsf{Ti}$'],
          loc='upper left', bbox_to_anchor=(0.8495, 0.8935), frameon=False, fontsize=16,
          handlelength=2.58, handletextpad=0.88, labelspacing=0.55, borderpad=0, borderaxespad=0)

fig.text(0.034, 0.527, r'$\mathsf{Mass\ Fraction}$', rotation=90, ha='center', va='center', fontsize=22)
fig.text(0.574, 0.026, r'$\mathsf{M}$ - $\mathsf{M}_{\mathsf{out}}\ [\mathsf{M}_{\odot}]$',
         ha='center', va='top', fontsize=22)

fig.savefig('out.png', dpi=200)
